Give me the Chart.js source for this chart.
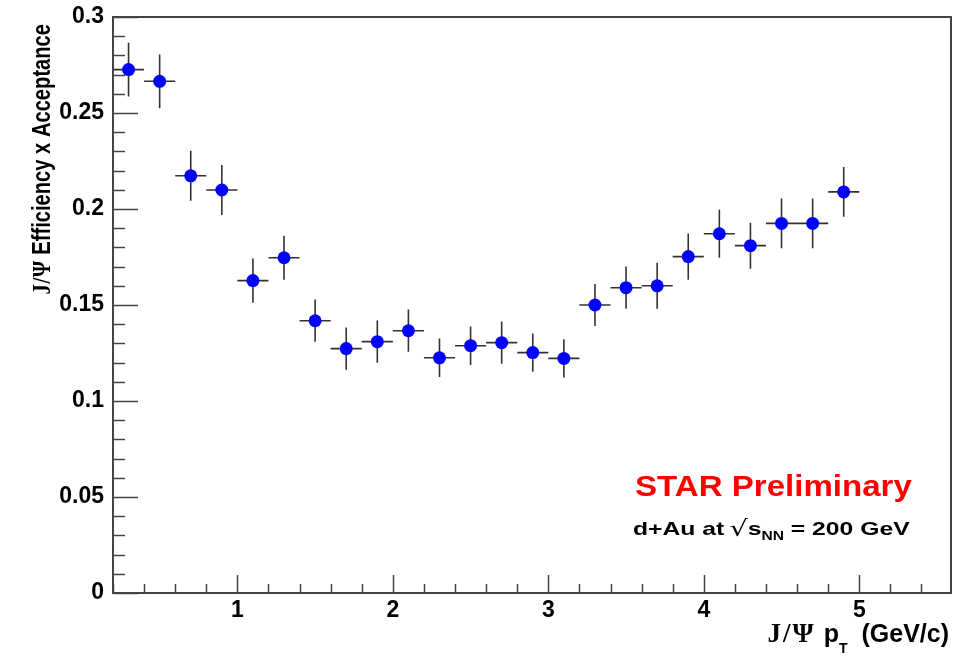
<!DOCTYPE html>
<html>
<head>
<meta charset="utf-8">
<script src="https://cdn.jsdelivr.net/npm/chart.js@4.4.0/dist/chart.umd.min.js"></script>
<style>
    html, body { margin: 0; padding: 0; background: #ffffff; }
</style>
</head>
<body>
<canvas id="effChart" width="962" height="656"></canvas>
<script>

// J/psi pT bin centres (GeV/c)
const ptBins = [0.3, 0.5, 0.7, 0.9, 1.1, 1.3, 1.5, 1.7, 1.9, 2.1, 2.3, 2.5,
                2.7, 2.9, 3.1, 3.3, 3.5, 3.7, 3.9, 4.1, 4.3, 4.5, 4.7, 4.9];

const efficiency = [0.2726, 0.2665, 0.2173, 0.2099, 0.1627, 0.1746, 0.1418, 0.1273,
                    0.1309, 0.1366, 0.1225, 0.1288, 0.1304, 0.1252, 0.1222, 0.1500,
                    0.1590, 0.1600, 0.1752, 0.1871, 0.1809, 0.1925, 0.1925, 0.2089];

const efficiencyErr = [0.014, 0.014, 0.013, 0.013, 0.0115, 0.0115, 0.011, 0.011,
                       0.011, 0.011, 0.010, 0.010, 0.011, 0.010, 0.010, 0.011,
                       0.011, 0.012, 0.012, 0.0125, 0.012, 0.013, 0.013, 0.013];

const ptHalfWidth = 0.1;

const xTicks = [1, 2, 3, 4, 5];
const yTicks = [0, 0.05, 0.1, 0.15, 0.2, 0.25, 0.3];

const SANS = "'Liberation Sans', Arial, sans-serif";
const SERIF = "'Liberation Serif', 'Times New Roman', serif";

// draws mixed-font pieces one after the other, returns end x
function drawPieces(ctx, pieces, x, y, measureOnly) {
    let cx = x;
    pieces.forEach(p => {
        if (p.gap) { cx += p.gap; return; }
        ctx.font = p.font;
        ctx.letterSpacing = (p.ls || 0) + "px";
        if (!measureOnly) ctx.fillText(p.text, cx, y + (p.dy || 0));
        cx += ctx.measureText(p.text).width;
        ctx.letterSpacing = "0px";
    });
    return cx;
}

const rootStyle = {
    id: "rootStyle",

    beforeDatasetsDraw(chart) {
        const ctx = chart.ctx;
        const area = chart.chartArea;
        const xs = chart.scales.x;
        const ys = chart.scales.y;

        ctx.save();

        // error bars
        ctx.strokeStyle = "#333333";
        ctx.lineWidth = 1.6;
        ptBins.forEach((pt, i) => {
            const px = xs.getPixelForValue(pt);
            const py = ys.getPixelForValue(efficiency[i]);
            ctx.beginPath();
            ctx.moveTo(xs.getPixelForValue(pt - ptHalfWidth), py);
            ctx.lineTo(xs.getPixelForValue(pt + ptHalfWidth), py);
            ctx.moveTo(px, ys.getPixelForValue(efficiency[i] - efficiencyErr[i]));
            ctx.lineTo(px, ys.getPixelForValue(efficiency[i] + efficiencyErr[i]));
            ctx.stroke();
        });

        // inward ticks, left axis
        ctx.strokeStyle = "#444444";
        ctx.lineWidth = 1.5;
        ctx.beginPath();
        for (let k = 0; k <= 30; k++) {
            const py = Math.round(ys.getPixelForValue(k * 0.01)) + 0.5;
            const len = (k % 5 === 0) ? 25 : 12;
            ctx.moveTo(area.left, py);
            ctx.lineTo(area.left + len, py);
        }
        // inward ticks, bottom axis
        for (let k = 1; k <= 27; k++) {
            const v = k * 0.2;
            if (v > xs.max) break;
            const px = Math.round(xs.getPixelForValue(v)) + 0.5;
            const len = (k % 5 === 0) ? 18 : 9;
            ctx.moveTo(px, area.bottom);
            ctx.lineTo(px, area.bottom - len);
        }
        ctx.stroke();

        // frame
        ctx.lineWidth = 2;
        ctx.strokeRect(area.left, area.top, area.right - area.left, area.bottom - area.top);

        ctx.restore();
    },

    afterDraw(chart) {
        const ctx = chart.ctx;
        const area = chart.chartArea;

        ctx.save();
        ctx.fillStyle = "#000000";
        ctx.textAlign = "left";
        ctx.textBaseline = "alphabetic";

        // y axis title, rotated and a little condensed along its length
        const yTitle = [
            { text: "J/\u03A8", font: "bold 26px " + SERIF, ls: 1 },
            { gap: 7 },
            { text: "Efficiency x Acceptance", font: "bold 25.5px " + SANS }
        ];
        ctx.save();
        ctx.translate(50, area.top + 7);
        ctx.rotate(-Math.PI / 2);
        ctx.scale(0.79, 1);
        const yW = drawPieces(ctx, yTitle, 0, 0, true);
        drawPieces(ctx, yTitle, -yW, 0);
        ctx.restore();

        // x axis title
        const xTitle = [
            { text: "J/\u03A8", font: "bold 27px " + SERIF, ls: 2 },
            { gap: 8 },
            { text: "p", font: "bold 25px " + SANS },
            { text: "T", font: "bold 14px " + SANS, dy: 11 },
            { gap: 14 },
            { text: "(GeV/c)", font: "bold 25px " + SANS }
        ];
        const xW = drawPieces(ctx, xTitle, 0, 0, true);
        drawPieces(ctx, xTitle, 949 - xW, 641.5);

        // STAR Preliminary
        ctx.save();
        ctx.fillStyle = "#ff0000";
        ctx.font = "bold 29px " + SANS;
        ctx.translate(635, 496);
        ctx.scale(1.14, 1);
        ctx.fillText("STAR Preliminary", 0, 0);
        ctx.restore();

        // collision system
        ctx.save();
        ctx.translate(633, 535);
        ctx.scale(1.3, 1);
        drawPieces(ctx, [
            { text: "d+Au at", font: "bold 19px " + SANS },
            { gap: 4 },
            { text: "\u221A", font: "22px 'DejaVu Sans', sans-serif", dy: 1 },
            { text: "s", font: "bold 19px " + SANS },
            { text: "NN", font: "bold 12px " + SANS, dy: 5 },
            { text: " = 200 GeV", font: "bold 19px " + SANS }
        ], 0, 0);
        ctx.restore();

        ctx.restore();
    }
};

const effChart = new Chart(document.getElementById("effChart"), {

    type: "scatter",

    data: {
        datasets: [{
            label: "J/psi efficiency x acceptance",
            data: ptBins.map((pt, i) => ({ x: pt, y: efficiency[i] })),
            backgroundColor: "#0000ff",
            borderColor: "#0000ff",
            borderWidth: 0,
            pointRadius: 6.5,
            pointHoverRadius: 6.5
        }]
    },

    options: {
        responsive: false,
        animation: false,
        devicePixelRatio: 1,
        layout: {
            padding: { top: 17, right: 11, left: 0, bottom: 0 }
        },
        plugins: {
            legend: { display: false },
            tooltip: { enabled: false }
        },
        scales: {
            x: {
                type: "linear",
                min: 0.2,
                max: 5.59,
                grid: { display: false, drawTicks: false },
                border: { display: false },
                afterBuildTicks: scale => {
                    scale.ticks = xTicks.map(v => ({ value: v }));
                },
                afterFit: scale => {
                    scale.height = 63;
                    scale.paddingLeft = 0;
                    scale.paddingRight = 0;
                },
                ticks: {
                    color: "#000000",
                    padding: 4,
                    maxRotation: 0,
                    font: { family: SANS, size: 23, weight: "bold" },
                    callback: v => String(v)
                }
            },
            y: {
                type: "linear",
                min: 0,
                max: 0.3,
                grid: { display: false, drawTicks: false },
                border: { display: false },
                afterBuildTicks: scale => {
                    scale.ticks = yTicks.map(v => ({ value: v }));
                },
                afterFit: scale => {
                    scale.width = 113;
                    scale.paddingTop = 0;
                    scale.paddingBottom = 0;
                },
                ticks: {
                    color: "#000000",
                    padding: 9,
                    font: { family: SANS, size: 23, weight: "bold" },
                    callback: v => String(parseFloat(v.toFixed(2)))
                }
            }
        }
    },

    plugins: [rootStyle]
});
</script>
</body>
</html>
